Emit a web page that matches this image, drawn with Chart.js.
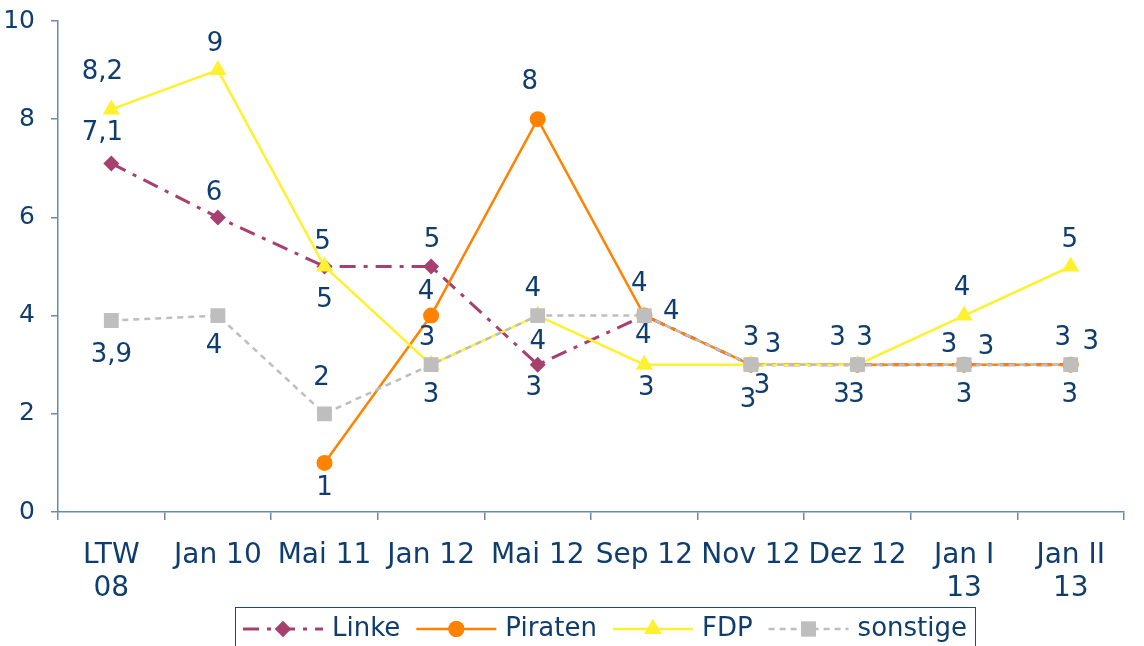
<!DOCTYPE html>
<html>
<head>
<meta charset="utf-8">
<script src="https://cdn.jsdelivr.net/npm/chart.js@4"></script>
<style>
  body { margin: 0; background: #fff; }
</style>
</head>
<body>
<canvas id="pollChart" width="1144" height="646"></canvas>
<script>
// Categories and values
const categories = [['LTW', '08'], 'Jan 10', 'Mai 11', 'Jan 12', 'Mai 12', 'Sep 12', 'Nov 12', 'Dez 12', ['Jan I', '13'], ['Jan II', '13']];
const linke = [7.1, 6, 5, 5, 3, 4, 3, 3, 3, 3];
const piraten = [null, null, 1, 4, 8, 4, 3, 3, 3, 3];
const fdp = [8.2, 9, 5, 3, 4, 3, 3, 3, 4, 5];
const sonstige = [3.9, 4, 2, 3, 4, 4, 3, 3, 3, 3];
const yTicks = [0, 2, 4, 6, 8, 10];

const textColor = '#0E3D6E';
const axisColor = '#6A89AD';
const fontFamily = '"DejaVu Sans", Verdana, sans-serif';

// where each value label sits relative to its point [dx, dy]
const labelOffsets = {
    Linke:    [[-9,-30],[-4,-24],[-2,-24],[1,-26],[-4,24],[27,-3],[0,-26],[-20,-26],[-15,-19],[-8,-26]],
    Piraten:  [null,null,[0,25],[-5,-23],[-8,-37],[-5,-31],[22,-19],[7,-26],[22,-17],[20,-22]],
    FDP:      [[-9,-37],[-3,-26],[0,34],[0,31],[-5,-26],[2,24],[-3,36],[-16,31],[-2,-27],[-1,-26]],
    sonstige: [[0,35],[-4,31],[-3,-36],[-4,-26],[0,27],[-1,21],[11,22],[-1,31],[0,31],[-1,31]]
};

// value labels drawn next to the points
const valueLabels = {
    id: 'valueLabels',
    afterDatasetsDraw(chart) {
        const ctx = chart.ctx;
        ctx.save();
        ctx.font = '26px ' + fontFamily;
        ctx.fillStyle = textColor;
        ctx.textAlign = 'center';
        ctx.textBaseline = 'middle';
        chart.data.datasets.forEach((ds, i) => {
            const meta = chart.getDatasetMeta(i);
            const offs = labelOffsets[ds.label];
            meta.data.forEach((pt, j) => {
                const v = ds.data[j];
                if (v === null || !offs[j]) return;
                const txt = String(v).replace('.', ',');
                ctx.fillText(txt, pt.x + offs[j][0], pt.y + offs[j][1]);
            });
        });
        ctx.restore();
    }
};

// boxed legend with line samples and markers
const boxLegend = {
    id: 'boxLegend',
    afterDraw(chart) {
        const ctx = chart.ctx;
        const sample = 80, gapText = 9, gapItem = 16, pad = 8;
        const top = 607, h = 42;
        ctx.save();
        ctx.font = '26px ' + fontFamily;
        const items = chart.data.datasets.map(ds => ({ ds, w: ctx.measureText(ds.label).width }));
        let total = pad * 2;
        items.forEach((it, i) => { total += sample + gapText + it.w + (i < items.length - 1 ? gapItem : 0); });
        let x = Math.round(605 - total / 2);
        ctx.strokeStyle = '#1F4A78';
        ctx.lineWidth = 1;
        ctx.strokeRect(x + 0.5, top + 0.5, total, h);
        x += pad;
        const cy = top + h / 2 + 1;
        items.forEach((it, i) => {
            const ds = it.ds;
            ctx.strokeStyle = ds.borderColor;
            ctx.lineWidth = ds.borderWidth;
            ctx.setLineDash(ds.borderDash || []);
            ctx.beginPath();
            ctx.moveTo(x, cy);
            ctx.lineTo(x + sample, cy);
            ctx.stroke();
            ctx.setLineDash([]);
            ctx.fillStyle = ds.pointBackgroundColor;
            Chart.helpers.drawPoint(ctx, {
                pointStyle: ds.pointStyle, radius: ds.pointRadius, rotation: 0, borderWidth: 0
            }, x + sample / 2, cy);
            ctx.fill();
            ctx.fillStyle = textColor;
            ctx.textBaseline = 'middle';
            ctx.textAlign = 'left';
            ctx.fillText(ds.label, x + sample + gapText, cy);
            x += sample + gapText + it.w + gapItem;
        });
        ctx.restore();
    }
};

const ctx = document.getElementById('pollChart').getContext('2d');
const pollChart = new Chart(ctx, {
    type: 'line',
    data: {
        labels: categories,
        datasets: [
            {
                label: 'Linke', data: linke, order: 4,
                borderColor: '#A6406F', backgroundColor: '#A6406F',
                pointBackgroundColor: '#A6406F', pointBorderWidth: 0,
                borderWidth: 3, borderDash: [16, 8, 4, 8],
                pointStyle: 'rectRot', pointRadius: 8
            },
            {
                label: 'Piraten', data: piraten, order: 3,
                borderColor: '#FF8200', backgroundColor: '#FF8200',
                pointBackgroundColor: '#FF8200', pointBorderWidth: 0,
                borderWidth: 2.5,
                pointStyle: 'circle', pointRadius: 8
            },
            {
                label: 'FDP', data: fdp, order: 2,
                borderColor: '#FFF030', backgroundColor: '#FFF030',
                pointBackgroundColor: '#FFF030', pointBorderWidth: 0,
                borderWidth: 2.5,
                pointStyle: 'triangle', pointRadius: 10
            },
            {
                label: 'sonstige', data: sonstige, order: 1,
                borderColor: '#BEBEBE', backgroundColor: '#BEBEBE',
                pointBackgroundColor: '#BEBEBE', pointBorderWidth: 0,
                borderWidth: 2.5, borderDash: [6, 5],
                pointStyle: 'rect', pointRadius: 10.5
            }
        ]
    },
    options: {
        responsive: false,
        animation: false,
        layout: { padding: { top: 21, right: 20, bottom: 40, left: 0 } },
        plugins: {
            legend: { display: false },
            tooltip: { enabled: false }
        },
        scales: {
            x: {
                offset: true,
                grid: { offset: true, drawOnChartArea: false, color: axisColor, tickLength: 8, lineWidth: 1.5 },
                border: { color: axisColor, width: 1.5 },
                ticks: {
                    color: textColor, autoSkip: false, maxRotation: 0, padding: 19,
                    font: { family: fontFamily, size: 28, lineHeight: 1.18 }
                },
                afterFit: s => { s.height = 94; }
            },
            y: {
                min: 0, max: 10,
                afterBuildTicks: s => { s.ticks = yTicks.map(v => ({ value: v })); },
                grid: { drawOnChartArea: false, color: axisColor, tickLength: 7, lineWidth: 1.5 },
                border: { color: axisColor, width: 1.5 },
                ticks: {
                    color: textColor, padding: 16,
                    font: { family: fontFamily, size: 25 }
                },
                afterFit: s => { s.width = 58; s.paddingTop = 0; s.paddingBottom = 0; }
            }
        }
    },
    plugins: [valueLabels, boxLegend]
});
</script>
</body>
</html>
